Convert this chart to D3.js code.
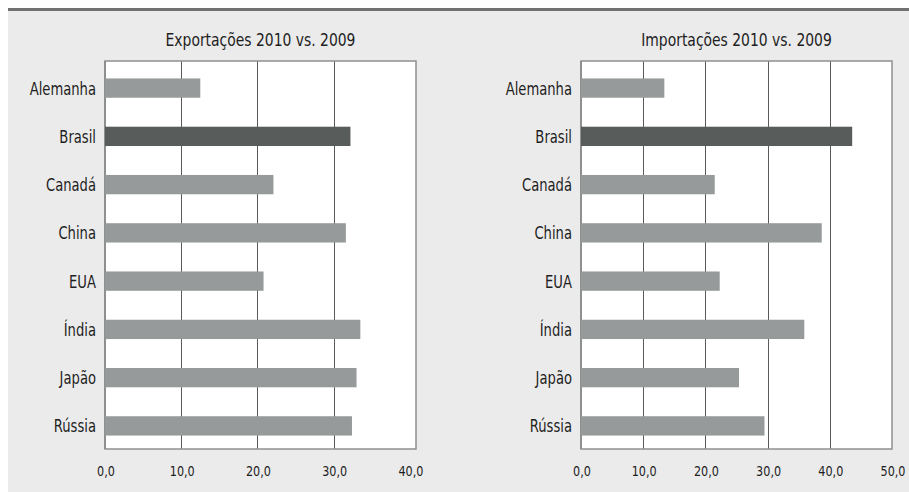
<!DOCTYPE html>
<html>
<head>
<meta charset="utf-8">
<script src="https://cdn.jsdelivr.net/npm/d3@7"></script>
<style>
  html, body { margin: 0; padding: 0; background: #ffffff; }
  svg { display: block; }
  text { font-family: "DejaVu Sans Condensed", "DejaVu Sans", sans-serif; font-stretch: condensed; fill: #1e1e1e; }
</style>
</head>
<body>
<svg id="chart" width="909" height="492"></svg>
<script>
// ---- data ----
const categories = ["Alemanha", "Brasil", "Canadá", "China", "EUA", "Índia", "Japão", "Rússia"];
const exportValues = [12.5, 32.2, 22.1, 31.6, 20.8, 33.5, 33.0, 32.4];
const importValues = [13.4, 43.6, 21.5, 38.7, 22.3, 35.9, 25.4, 29.5];
const exportTicks = [0, 10, 20, 30, 40];
const importTicks = [0, 10, 20, 30, 40, 50];
const titles = ["Exportações 2010 vs. 2009", "Importações 2010 vs. 2009"];
const highlight = "Brasil";

const svg = d3.select("#chart");
const W = 909, H = 492;
const SX = 0.86; // horizontal condensing of text

svg.append("rect").attr("x", 8).attr("y", 10).attr("width", W - 8).attr("height", H - 10).attr("fill", "#ebebeb");
svg.append("rect").attr("x", 8).attr("y", 8).attr("width", W - 8).attr("height", 3).attr("fill", "#6f7271");

const fmt = v => d3.format(".1f")(v).replace(".", ",");

function label(g, x, y, anchor, size, str) {
  g.append("text")
    .attr("transform", `translate(${x},${y}) scale(${SX},1)`)
    .attr("text-anchor", anchor)
    .style("font-size", size + "px")
    .text(str);
}

function drawPanel(cfg) {
  const { values, ticks, title, x0, x1, dmax, top, bottom, labelX } = cfg;
  const x = d3.scaleLinear().domain([0, dmax]).range([x0, x1]);
  const y = d3.scaleBand().domain(categories).range([top + 2, bottom + 2]).paddingInner(0.6).paddingOuter(0.32);
  const g = svg.append("g");

  g.append("rect").attr("x", x0).attr("y", top).attr("width", x1 - x0).attr("height", bottom - top).attr("fill", "#ffffff");

  g.selectAll("line.grid").data(ticks.filter(t => t > 0 && x(t) < x1 - 8)).enter().append("line")
    .attr("x1", d => Math.round(x(d)) + 0.5).attr("x2", d => Math.round(x(d)) + 0.5)
    .attr("y1", top).attr("y2", bottom)
    .attr("stroke", "#5a5a5a").attr("stroke-width", 1);

  g.append("rect").attr("x", x0).attr("y", top).attr("width", x1 - x0).attr("height", bottom - top)
    .attr("fill", "none").attr("stroke", "#8e9090").attr("stroke-width", 1.5);
  g.append("line").attr("x1", x0).attr("x2", x0).attr("y1", top).attr("y2", bottom)
    .attr("stroke", "#8e9090").attr("stroke-width", 2);

  g.selectAll("rect.bar").data(categories).enter().append("rect")
    .attr("x", x(0))
    .attr("y", d => y(d))
    .attr("width", (d, i) => x(values[i]) - x(0))
    .attr("height", y.bandwidth())
    .attr("fill", d => d === highlight ? "#585c5b" : "#979a9a");

  categories.forEach(d => label(g, labelX, y(d) + y.bandwidth() / 2 + 6.5, "end", 17, d));
  ticks.forEach(t => label(g, x(t) + 1, 476, "middle", 14.5, fmt(t)));
  label(g, (x0 + x1) / 2, 46, "middle", 18, title);
}

drawPanel({ values: exportValues, ticks: exportTicks, title: titles[0], x0: 105, x1: 416, dmax: 40.8, top: 61, bottom: 449, labelX: 96 });
drawPanel({ values: importValues, ticks: importTicks, title: titles[1], x0: 581, x1: 892, dmax: 50, top: 61, bottom: 449, labelX: 572 });
</script>
</body>
</html>
